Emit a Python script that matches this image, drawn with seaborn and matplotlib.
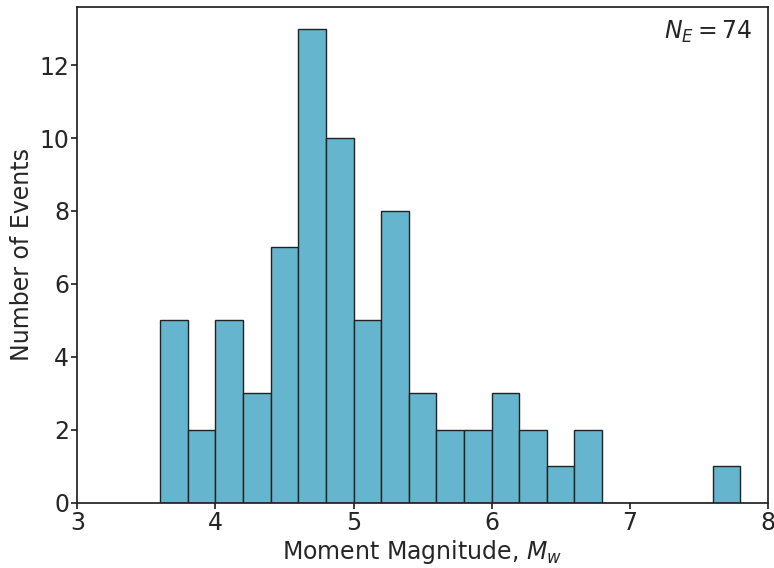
import numpy as np
import pandas as pd
import matplotlib
matplotlib.use("Agg")
import matplotlib.pyplot as plt
import seaborn as sns

bin_edges = [3.6, 3.8, 4.0, 4.2, 4.4, 4.6, 4.8, 5.0, 5.2, 5.4, 5.6, 5.8, 6.0,
             6.2, 6.4, 6.6, 6.8, 7.0, 7.2, 7.4, 7.6, 7.8]
counts = [5, 2, 5, 3, 7, 13, 10, 5, 8, 3, 2, 2, 3, 2, 1, 2, 0, 0, 0, 0, 1]
n_events = 74

centers = [(a + b) / 2 for a, b in zip(bin_edges[:-1], bin_edges[1:])]
df = pd.DataFrame({"Mw": centers, "count": counts})

sns.set_theme(style="ticks")
plt.rcParams['font.family'] = ['DejaVu Sans']

fig, ax = plt.subplots(figsize=(7.74, 5.68), dpi=100)
sns.histplot(data=df, x="Mw", weights="count", bins=bin_edges, ax=ax,
             color="#64B5CD", alpha=1.0, edgecolor="#222222", linewidth=1.0)

ax.set_xlim(3, 8)
ax.set_ylim(0, 13.6)
ax.set_yticks([0, 2, 4, 6, 8, 10, 12])
ax.set_xticks([3, 4, 5, 6, 7, 8])
ax.tick_params(labelsize=17, length=4, pad=2)
ax.set_xlabel(r"Moment Magnitude, $M_w$", fontsize=17, labelpad=2)
ax.set_ylabel("Number of Events", fontsize=17, labelpad=4)
ax.text(0.978, 0.975, r"$N_E = %d$" % n_events, transform=ax.transAxes,
        ha="right", va="top", fontsize=17)
for s in ax.spines.values():
    s.set_color("#222222")

fig.subplots_adjust(left=0.1, right=0.992, top=0.988, bottom=0.115)
fig.savefig("out.png", dpi=100)
